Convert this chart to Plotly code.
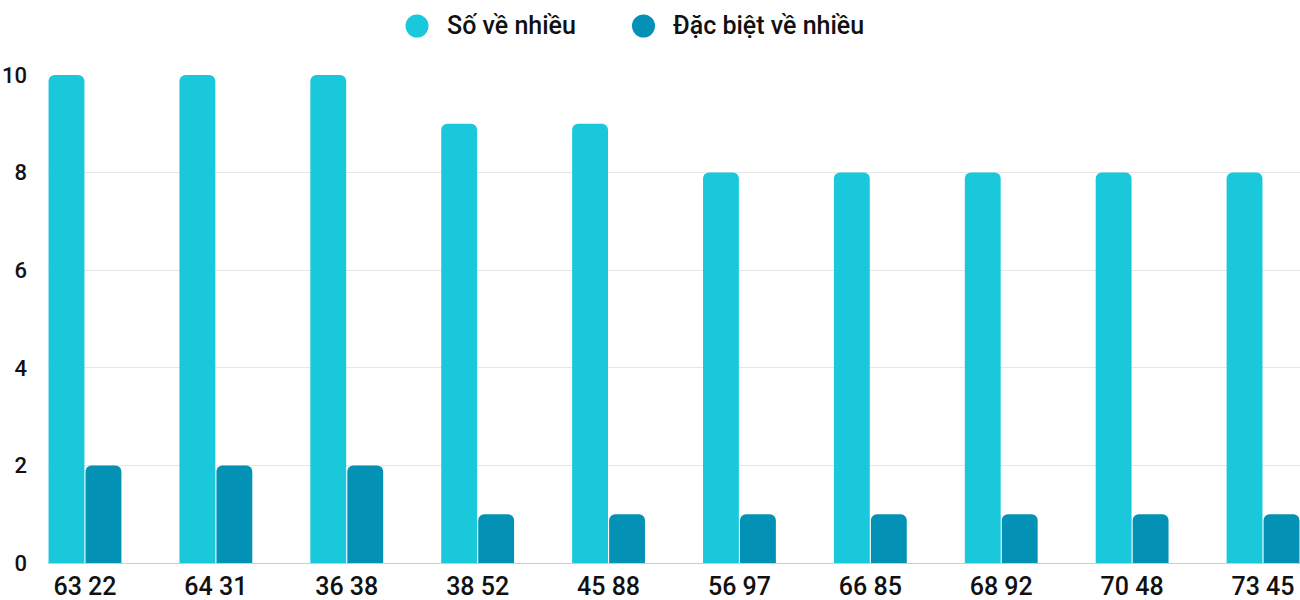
import plotly.graph_objects as go

categories = ["63 22", "64 31", "36 38", "38 52", "45 88", "56 97", "66 85", "68 92", "70 48", "73 45"]
so_ve_nhieu = [10, 10, 10, 9, 9, 8, 8, 8, 8, 8]
dac_biet_ve_nhieu = [2, 2, 2, 1, 1, 1, 1, 1, 1, 1]
series_names = ["Số về nhiều", "Đặc biệt về nhiều"]
colors = ["#1AC8DB", "#0392B5"]
y_ticks = [0, 2, 4, 6, 8, 10]

fig = go.Figure()
fig.add_trace(go.Bar(x=categories, y=so_ve_nhieu, name=series_names[0],
                     marker=dict(color=colors[0], line=dict(width=0)), showlegend=False))
fig.add_trace(go.Bar(x=categories, y=dac_biet_ve_nhieu, name=series_names[1],
                     marker=dict(color=colors[1], line=dict(width=0)), showlegend=False))

# legend drawn as circles + text
legend_items = [(417, 445), (643.5, 671)]
for (cx, tx), name, col in zip(legend_items, series_names, colors):
    fig.add_shape(type="circle", xref="paper", yref="paper",
                  xsizemode="pixel", ysizemode="pixel",
                  xanchor=(cx - 48) / 1252, yanchor=1 + (75 - 26) / 488,
                  x0=-11.5, x1=11.5, y0=-11.5, y1=11.5,
                  fillcolor=col, line=dict(width=0))
    fig.add_annotation(xref="paper", yref="paper", x=(tx - 48) / 1252,
                       y=1 + (75 - 26) / 488, text=name, showarrow=False,
                       xanchor="left", yanchor="middle",
                       font=dict(family="Roboto", size=25, weight=500, color="#111111"))

n = len(categories)
half = 0.2825
fig.update_layout(
    width=1300, height=600,
    margin=dict(l=48, r=0, t=75, b=37),
    paper_bgcolor="white", plot_bgcolor="white",
    barmode="group", bargap=0.435, bargroupgap=0.03,
    barcornerradius=6,
    font=dict(family="Roboto", size=22, weight=500, color="#111111"),
    xaxis=dict(type="category", range=[-half, n - 1 + half], showgrid=False,
               showline=False, ticks="", ticklabelstandoff=6,
               tickfont=dict(size=25, weight=500, color="#111111"),
               fixedrange=True),
    yaxis=dict(range=[0, 10], tickvals=y_ticks, showgrid=True, gridcolor="#e6e6e6",
               gridwidth=1, zeroline=True, zerolinecolor="#cccccc", zerolinewidth=1,
               showline=False, ticks="", ticklabelstandoff=20,
               tickfont=dict(size=22, weight=500, color="#111111"), fixedrange=True),
)

fig.write_html("out.html")
